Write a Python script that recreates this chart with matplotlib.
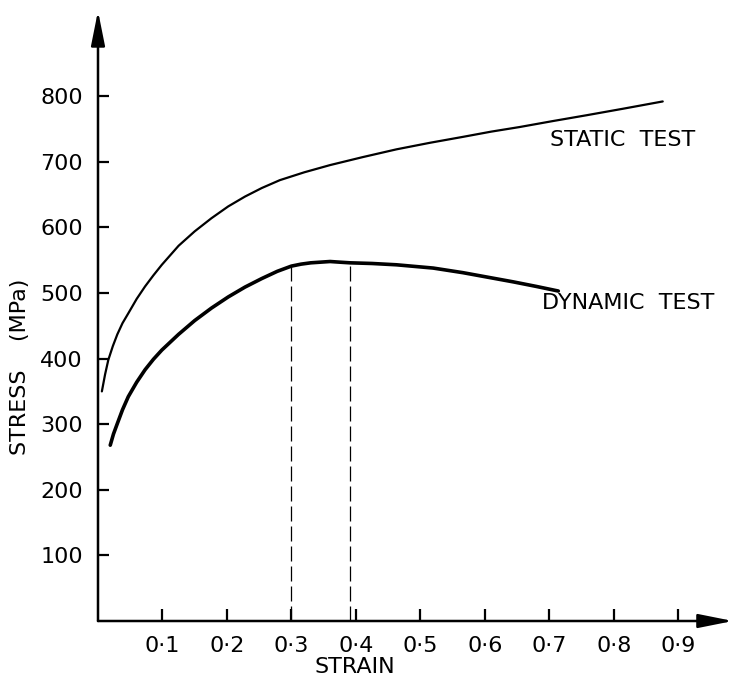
import matplotlib
matplotlib.use("Agg")
import matplotlib.pyplot as plt

# Stress-strain data (strain, stress in MPa)
static_strain = [0.006, 0.011, 0.016, 0.023, 0.030, 0.038, 0.047, 0.060, 0.073,
                 0.086, 0.099, 0.125, 0.150, 0.176, 0.202, 0.228, 0.254, 0.282,
                 0.320, 0.360, 0.410, 0.463, 0.515, 0.566, 0.610, 0.654, 0.705,
                 0.758, 0.815, 0.876]
static_stress = [350, 376, 398, 419, 437, 454, 469, 491, 510,
                 527, 543, 572, 594, 614, 632, 647, 660, 672,
                 684, 695, 707, 719, 729, 738, 746, 753, 762,
                 771, 781, 792]

dynamic_strain = [0.019, 0.024, 0.030, 0.038, 0.047, 0.060, 0.073, 0.086, 0.099,
                  0.125, 0.150, 0.176, 0.202, 0.228, 0.254, 0.278, 0.300, 0.315,
                  0.330, 0.345, 0.360, 0.375, 0.391, 0.425, 0.463, 0.520, 0.566,
                  0.605, 0.644, 0.680, 0.714]
dynamic_stress = [268, 285, 301, 322, 342, 364, 383, 399, 413,
                  437, 458, 477, 494, 509, 522, 533, 541, 544,
                  546, 547, 548, 547, 546, 545, 543, 538, 531,
                  524, 517, 510, 503]

# Strain values bounding the peak region (dashed markers)
peak_strain = [0.300, 0.391]
peak_stress = [541, 546]

x_ticks = [0.1, 0.2, 0.3, 0.4, 0.5, 0.6, 0.7, 0.8, 0.9]
x_tick_labels = ["0·1", "0·2", "0·3", "0·4", "0·5", "0·6", "0·7", "0·8", "0·9"]
y_ticks = [100, 200, 300, 400, 500, 600, 700, 800]
y_tick_labels = ["100", "200", "300", "400", "500", "600", "700", "800"]

plt.rcParams["font.family"] = ["DejaVu Sans"]
FS = 16

W, H = 733, 679
fig = plt.figure(figsize=(W / 100, H / 100), dpi=100)
ox, oy = 98, 621
xmax, ymax = 0.985, 930
ax = fig.add_axes([ox / W, (H - oy) / H, 635 / W, ymax * 0.656 / H])
ax.set_xlim(0, xmax)
ax.set_ylim(0, ymax)
for s in ax.spines.values():
    s.set_visible(False)

# Axes drawn as arrows
arrow_kw = dict(arrowstyle="-|>,head_length=1.5,head_width=0.3", color="black",
                lw=1.8, mutation_scale=14, shrinkA=0, shrinkB=0)
ax.annotate("", xy=(xmax, 0), xytext=(0, 0), arrowprops=arrow_kw,
            annotation_clip=False)
ax.annotate("", xy=(0, ymax), xytext=(0, 0), arrowprops=arrow_kw,
            annotation_clip=False)

# Curves
ax.plot(static_strain, static_stress, color="black", lw=1.6,
        solid_capstyle="round", solid_joinstyle="round")
ax.plot(dynamic_strain, dynamic_stress, color="black", lw=2.6,
        solid_capstyle="round", solid_joinstyle="round")

# Dashed verticals down to the strain axis
for xs, ys in zip(peak_strain, peak_stress):
    ax.vlines(xs, 0, ys, colors="black", linestyles=(0, (12, 4)), lw=0.9)

# Ticks pointing into the plot
ax.set_xticks(x_ticks)
ax.set_xticklabels(x_tick_labels, fontsize=FS)
ax.set_yticks(y_ticks)
ax.set_yticklabels(y_tick_labels, fontsize=FS)
ax.tick_params(axis="x", direction="in", length=9, width=1.6, pad=11)
ax.tick_params(axis="y", direction="in", length=8, width=1.6, pad=11)

# Axis titles
ax.text(0.398, -85, "STRAIN", fontsize=FS, ha="center", va="bottom",
        clip_on=False)
ax.text(-0.121, 388, "STRESS    (MPa)", fontsize=FS, ha="center", va="center",
        rotation=90, clip_on=False)

# Curve labels
ax.text(0.814, 733, "STATIC  TEST", fontsize=FS, ha="center", va="center")
ax.text(0.823, 485, "DYNAMIC  TEST", fontsize=FS, ha="center", va="center")

fig.savefig("out.png", dpi=100, facecolor="white")
